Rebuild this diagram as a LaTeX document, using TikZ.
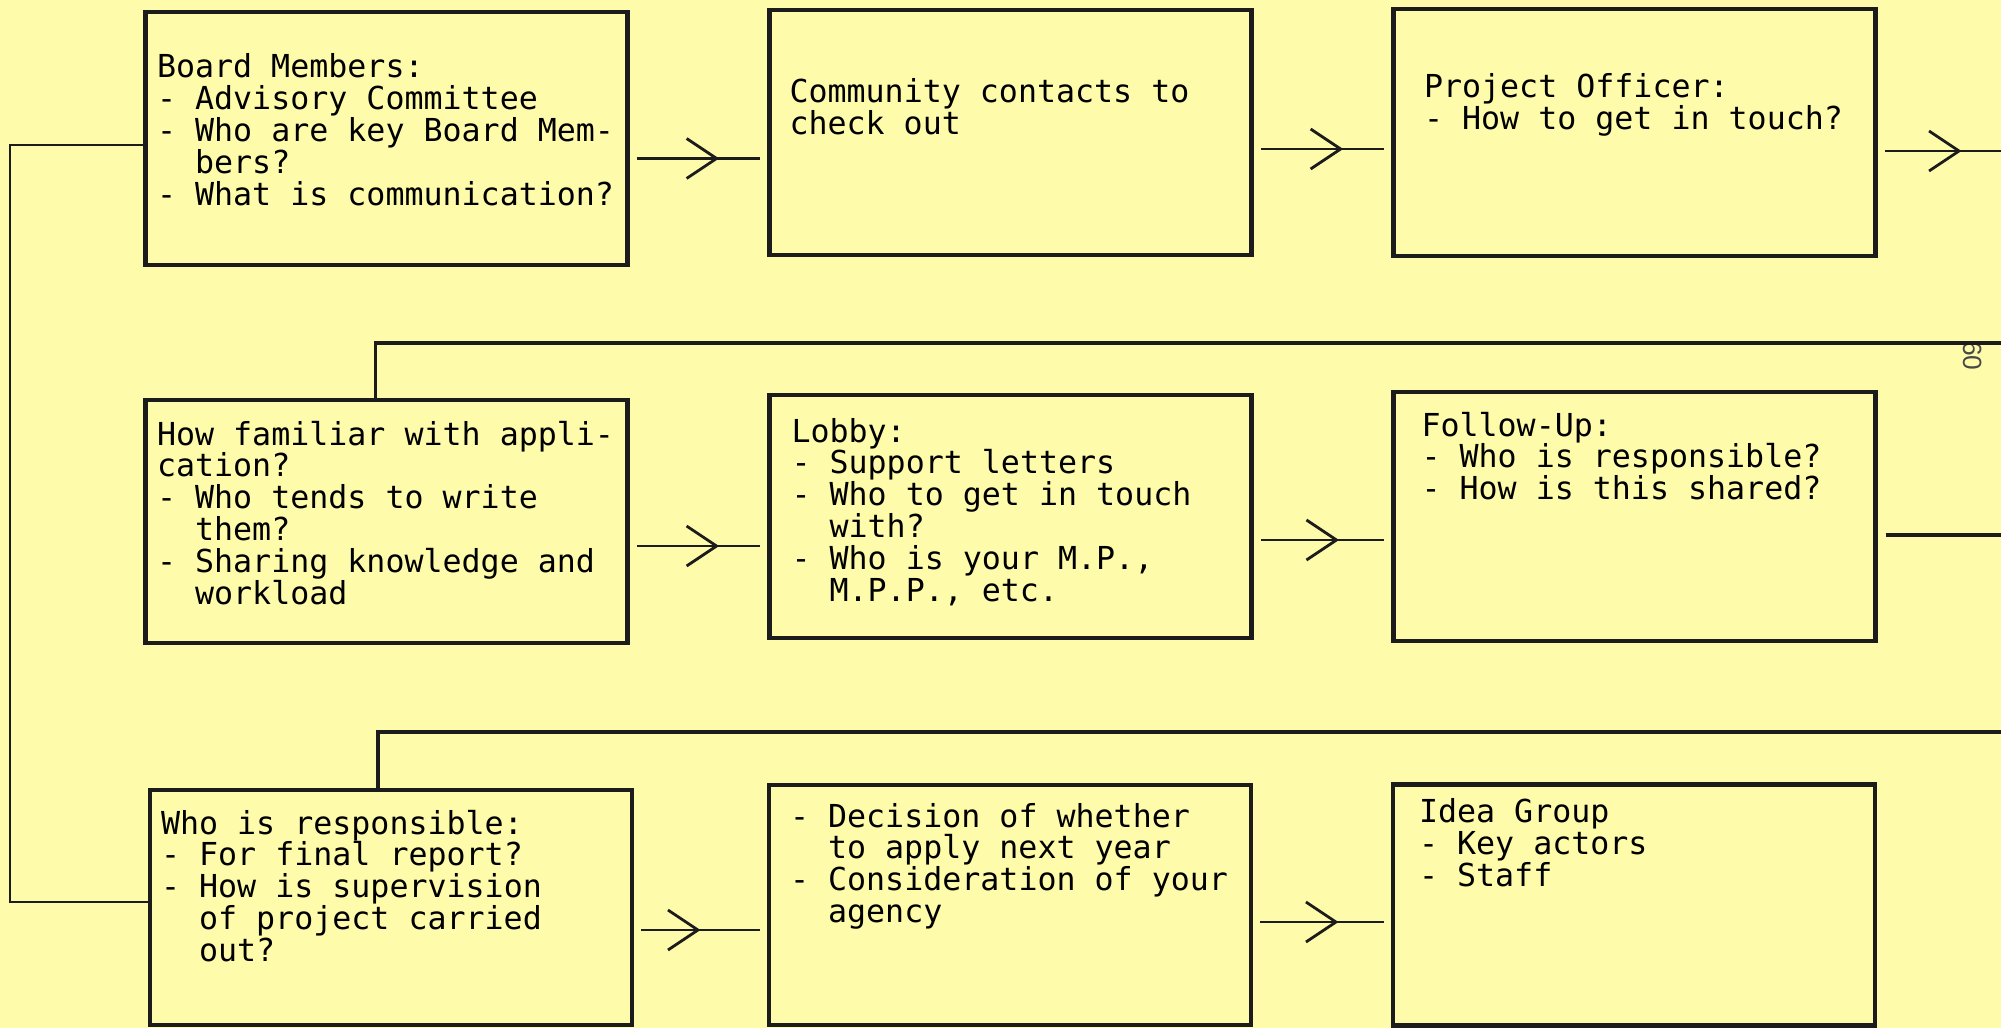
\documentclass[tikz,border=0pt]{standalone}
\usepackage{fontspec}
\newfontfamily\typefont{DejaVu Sans Mono}
\newfontfamily\pagefont{Liberation Sans}
\usetikzlibrary{positioning, arrows.meta, decorations.markings}
\definecolor{paper}{RGB}{254,252,170}
\definecolor{ink}{RGB}{28,28,28}
\newcommand{\ind}{\phantom{- }}
\newcommand{\wordgap}{\spaceskip=5.418pt\relax}

\begin{document}
\begin{tikzpicture}[node distance=6.24cm]
    \tikzstyle{box}=[draw=ink, rectangle, line width=1.3pt, font=\typefont\fontsize{9}{9.1}\selectfont\frenchspacing\wordgap, align=flush left, minimum width=4.82cm, inner xsep=0pt, inner ysep=.1cm, text height=.3cm, text depth=1.9cm];
    \tikzstyle{wire}=[draw=ink, line width=1pt];
    \tikzstyle{loopback}=[draw=ink, line width=.6pt];
    \tikzset{flow/.style={draw=ink, line width=.8pt, shorten <=.07cm, shorten >=.07cm, postaction={decorate}, decoration={markings, mark=at position #1 with {\arrow{Straight Barb[length=3mm, width=4mm]}}}}, flow/.default=.65};

    \useasboundingbox (0,0) rectangle (20.01,-10.28);
    \fill[paper] (0,0) rectangle (20.01,-10.28);
    \coordinate (rim) at (20.01,0);
    \coordinate (lft) at (0.1,0);
    \coordinate (back1) at (20.01,-3.43);
    \coordinate (back2) at (20.01,-7.32);

    \node[box, text width=4.59cm, text height=.56cm, text depth=1.77cm] (bmem) at (3.865,-1.385) {Board Members:\\- Advisory Committee\\- Who are key Board Mem-\\\ind bers?\\- What is communication?};
    \node[box, right of=bmem, yshift=.06cm, text width=4.42cm, text height=.83cm, text depth=1.42cm] (contacts) {Community contacts to\\check out};
    \node[box, right of=contacts, text width=4.21cm, text height=.79cm, text depth=1.48cm] (officer) {Project Officer:\\- How to get in touch?};
    \node[box, node distance=3.83cm, below of=bmem, text width=4.59cm, text height=.35cm, text depth=1.88cm] (familiar) {How familiar with appli-\\cation?\\- Who tends to write\\\ind them?\\- Sharing knowledge and\\\ind workload};
    \node[box, right of=familiar, yshift=.05cm, text width=4.38cm, text height=.37cm, text depth=1.86cm] (lobby) {Lobby:\\- Support letters\\- Who to get in touch\\\ind with?\\- Who is your M.P.,\\\ind M.P.P., etc.};
    \node[box, right of=lobby, text width=4.26cm, text height=.34cm, text depth=1.95cm] (followup) {Follow-Up:\\- Who is responsible?\\- How is this shared?};
    \node[box, node distance=3.86cm, below of=familiar, xshift=.045cm, text width=4.6cm, text height=.34cm, text depth=1.81cm] (respons) {Who is responsible:\\- For final report?\\- How is supervision\\\ind of project carried\\\ind out?};
    \node[box, right of=respons, xshift=-.05cm, yshift=.025cm, text width=4.4cm, text height=.32cm, text depth=1.88cm] (decision) {- Decision of whether\\\ind to apply next year\\- Consideration of your\\\ind agency};
    \node[box, right of=decision, text width=4.3cm, text height=.28cm, text depth=1.93cm] (idea) {Idea Group\\- Key actors\\- Staff};

    \node[rotate=-90, font=\pagefont\fontsize{7.5}{7.5}\selectfont, text=ink!80] (pagenum) at (19.73,-3.56) {60};

    % forward arrows in each row
    \draw[flow] ([yshift=-.2cm]bmem.east) -- ([yshift=-.2cm]bmem.east -| contacts.west);
    \draw[flow] ([yshift=-.165cm]contacts.east) -- ([yshift=-.165cm]contacts.east -| officer.west);
    \draw[flow=.68, shorten >=0pt] ([yshift=-.185cm]officer.east) -- ([yshift=-.185cm]officer.east -| rim);
    \draw[flow] ([yshift=-.245cm]familiar.east) -- ([yshift=-.245cm]familiar.east -| lobby.west);
    \draw[flow=.62] ([yshift=-.235cm]lobby.east) -- ([yshift=-.235cm]lobby.east -| followup.west);
    \draw[wire, shorten <=.08cm] ([yshift=-.185cm]followup.east) -- ([yshift=-.185cm]followup.east -| rim);
    \draw[flow=.5] ([yshift=-.225cm]respons.east) -- ([yshift=-.225cm]respons.east -| decision.west);
    \draw[flow=.62] ([yshift=-.17cm]decision.east) -- ([yshift=-.17cm]decision.east -| idea.west);

    % returns from the right edge
    \draw[wire] ([xshift=-.11cm]familiar.north) |- (back1);
    \draw[wire] ([xshift=-.13cm]respons.north) |- (back2);
    \draw[loopback] ([yshift=-.065cm]bmem.west) -- ([yshift=-.065cm]bmem.west -| lft) -- ([yshift=.055cm]respons.west -| lft) -- ([yshift=.055cm]respons.west);
\end{tikzpicture}
\end{document}
